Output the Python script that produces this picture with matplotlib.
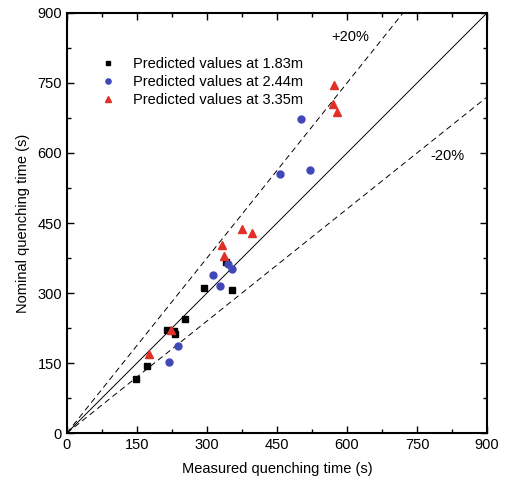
import matplotlib
matplotlib.use("Agg")
import matplotlib.pyplot as plt
from matplotlib.ticker import MultipleLocator

plt.rcParams['font.family'] = ['Liberation Sans', 'DejaVu Sans']

# Data (measured, nominal)
x_183 = [147, 172, 214, 229, 232, 254, 293, 340, 354]
y_183 = [116, 144, 220, 218, 213, 244, 310, 367, 306]

x_244 = [218, 239, 314, 328, 346, 354, 456, 501, 521]
y_244 = [152, 187, 339, 314, 363, 351, 555, 673, 564]

x_335 = [175, 224, 333, 336, 376, 396, 569, 573, 579]
y_335 = [169, 221, 403, 379, 437, 428, 706, 746, 687]

labels = ["Predicted values at 1.83m", "Predicted values at 2.44m", "Predicted values at 3.35m"]
ticks = [0, 150, 300, 450, 600, 750, 900]

fig = plt.figure(figsize=(5.07, 4.86), dpi=100)
ax = fig.add_axes([0.132, 0.109, 0.8286, 0.8643])

ax.plot([0, 900], [0, 900], color='black', lw=0.7)
ax.plot([0, 720], [0, 900], color='black', lw=0.7, ls=(0, (6, 4)))
ax.plot([0, 900], [0, 720], color='black', lw=0.7, ls=(0, (6, 4)))

ax.plot(x_183, y_183, 's', color='black', ms=4.7, ls='none', label=labels[0])
ax.plot(x_244, y_244, 'o', color='#4048B8', ms=5.0, ls='none', label=labels[1])
ax.plot(x_335, y_335, '^', color='#E03028', ms=5.7, ls='none', label=labels[2])

ax.text(567, 849, '+20%', fontsize=10.5, va='center', ha='left')
ax.text(778, 594, '-20%', fontsize=10.5, va='center', ha='left')

ax.set_xlim(0, 900)
ax.set_ylim(0, 900)
ax.set_xticks(ticks)
ax.set_yticks(ticks)
ax.xaxis.set_minor_locator(MultipleLocator(75))
ax.yaxis.set_minor_locator(MultipleLocator(75))
ax.tick_params(which='both', direction='in', top=True, right=True, labelsize=10.5)
ax.tick_params(which='major', length=5, width=1)
ax.tick_params(which='minor', length=3, width=1)
for s in ax.spines.values():
    s.set_linewidth(1.5)

ax.set_xlabel('Measured quenching time (s)', fontsize=10.5, labelpad=7)
ax.set_ylabel('Nominal quenching time (s)', fontsize=10.5, labelpad=5)

leg = ax.legend(loc='upper left', bbox_to_anchor=(0.05, 0.927), frameon=False,
                fontsize=10.5, handletextpad=1.2, labelspacing=0.28, handlelength=1.0,
                markerscale=0.75)

fig.savefig('out.png', dpi=100)
